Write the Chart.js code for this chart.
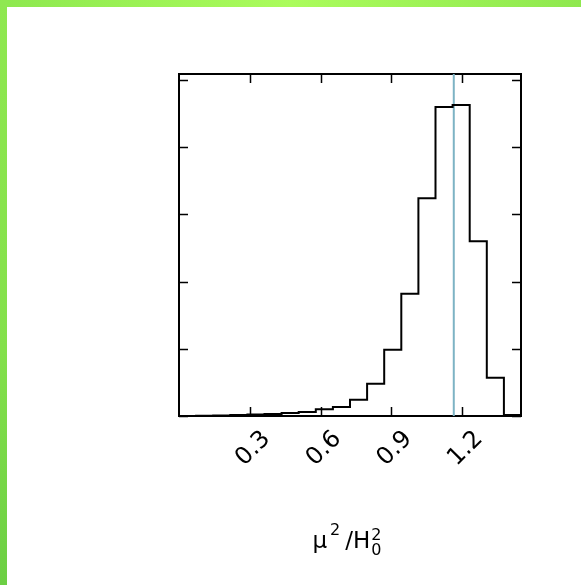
<!DOCTYPE html>
<html>
<head>
<meta charset="utf-8">
<script src="https://cdn.jsdelivr.net/npm/chart.js@4.4.1/dist/chart.umd.min.js"></script>
<style>
  html, body { margin: 0; padding: 0; background: #ffffff; width: 581px; height: 585px; overflow: hidden; }
  #wrap { position: absolute; left: 0; top: 0; width: 581px; height: 585px; }
  #c { position: absolute; left: 0; top: 0; }
  #bandTop { position: absolute; left: 0; top: 0; width: 581px; height: 7px;
    background: linear-gradient(to right, #8de84f 0%, #abfc5c 50%, #8fe84f 100%); }
  #bandLeft { position: absolute; left: 0; top: 0; width: 7px; height: 585px;
    background: linear-gradient(to bottom, #8fe850 0%, #83e04b 60%, #6ccf44 100%); }
</style>
</head>
<body>
<div id="wrap">
  <canvas id="c" width="581" height="585"></canvas>
  <div id="bandTop"></div>
  <div id="bandLeft"></div>
</div>
<script>
// ---- data ----
const binEdges = [0, 0.0725, 0.145, 0.2175, 0.29, 0.3625, 0.435, 0.5075, 0.58, 0.6525, 0.725,
                  0.7975, 0.87, 0.9425, 1.015, 1.0875, 1.16, 1.2325, 1.305, 1.3775, 1.45];
const binHeights = [0.0, 0.005, 0.008, 0.015, 0.022, 0.03, 0.045, 0.06, 0.10, 0.135,
                    0.24, 0.48, 0.985, 1.82, 3.24, 4.60, 4.63, 2.60, 0.57, 0.015];
const referenceValue = 1.165;
const xTickValues = [0.3, 0.6, 0.9, 1.2];
const yTickValues = [0, 1, 2, 3, 4, 5];
const xMin = 0, xMax = 1.45;
const yMin = 0, yMax = 5.09;
const xAxisTitle = {base: 'μ', sup1: '2', mid: '/H', sup2: '2', sub2: '0'};

// step outline of the histogram, built from the arrays
const stepPoints = [{x: binEdges[0], y: 0}];
for (let i = 0; i < binHeights.length; i++) stepPoints.push({x: binEdges[i], y: binHeights[i]});
stepPoints.push({x: binEdges[binEdges.length - 1], y: binHeights[binHeights.length - 1]});
stepPoints.push({x: binEdges[binEdges.length - 1], y: 0});

const refLine = [{x: referenceValue, y: yMin}, {x: referenceValue, y: yMax}];

const FONT = "'DejaVu Sans', 'Liberation Sans', sans-serif";

const inwardTicks = {
  id: 'inwardTicks',
  afterDatasetsDraw(chart) {
    const ctx = chart.ctx, a = chart.chartArea, L = 9;
    ctx.save();
    ctx.strokeStyle = '#000';
    ctx.lineWidth = 1.5;
    ctx.beginPath();
    const sx = chart.scales.x, sy = chart.scales.y;
    xTickValues.forEach(v => {
      const px = Math.round(sx.getPixelForValue(v)) + 0.5;
      ctx.moveTo(px, a.bottom); ctx.lineTo(px, a.bottom - L);
      ctx.moveTo(px, a.top); ctx.lineTo(px, a.top + L);
    });
    yTickValues.forEach(v => {
      const py = Math.round(sy.getPixelForValue(v)) + 0.5;
      ctx.moveTo(a.left, py); ctx.lineTo(a.left + L, py);
      ctx.moveTo(a.right, py); ctx.lineTo(a.right - L, py);
    });
    ctx.stroke();
    ctx.restore();
  }
};

const mathTitle = {
  id: 'mathTitle',
  afterDraw(chart) {
    const ctx = chart.ctx;
    const big = "23px " + FONT, small = "16px " + FONT;
    ctx.save();
    ctx.fillStyle = '#000';
    ctx.textBaseline = 'alphabetic';
    ctx.textAlign = 'left';
    ctx.font = big;
    const wB = ctx.measureText(xAxisTitle.base).width;
    const wM = ctx.measureText(xAxisTitle.mid).width;
    ctx.font = small;
    const wS = ctx.measureText(xAxisTitle.sup1).width;
    const wS2 = Math.max(ctx.measureText(xAxisTitle.sup2).width, ctx.measureText(xAxisTitle.sub2).width);
    const gap1 = 3, gap2 = 5;
    const total = wB + gap1 + wS + gap2 + wM + 1 + wS2;
    const cx = 347, base = 548;
    let x = cx - total / 2;
    ctx.font = big;
    ctx.fillText(xAxisTitle.base, x, base); x += wB + gap1;
    ctx.font = small;
    ctx.fillText(xAxisTitle.sup1, x, base - 13); x += wS + gap2;
    ctx.font = big;
    ctx.fillText(xAxisTitle.mid, x, base); x += wM + 1;
    ctx.font = small;
    ctx.fillText(xAxisTitle.sup2, x, base - 8);
    ctx.fillText(xAxisTitle.sub2, x, base + 7);
    ctx.restore();
  }
};

const setX = s => { s.ticks = xTickValues.map(v => ({value: v})); };
const setY = s => { s.ticks = yTickValues.map(v => ({value: v})); };
const hiddenGrid = {display: true, drawOnChartArea: false, drawTicks: false};
const frame = {display: true, color: '#000', width: 2};

new Chart(document.getElementById('c'), {
  type: 'line',
  data: {
    datasets: [
      {
        data: stepPoints,
        stepped: 'before',
        borderColor: '#000000',
        borderWidth: 2,
        pointRadius: 0,
        fill: false,
        clip: false,
        xAxisID: 'x', yAxisID: 'y'
      },
      {
        data: refLine,
        borderColor: '#7db3c4',
        borderWidth: 2,
        pointRadius: 0,
        fill: false,
        xAxisID: 'x', yAxisID: 'y'
      }
    ]
  },
  options: {
    responsive: false,
    animation: false,
    events: [],
    layout: {padding: 0},
    plugins: {legend: {display: false}, tooltip: {enabled: false}, title: {display: false}},
    scales: {
      x: {
        type: 'linear', position: 'bottom', min: xMin, max: xMax,
        grid: hiddenGrid, border: frame,
        afterBuildTicks: setX,
        afterFit: s => { s.height = 169; },
        ticks: {
          autoSkip: false, minRotation: 45, maxRotation: 45,
          labelOffset: 17, padding: 9,
          color: '#000', font: {family: FONT, size: 24},
          callback: v => String(v)
        }
      },
      x2: {
        type: 'linear', position: 'top', min: xMin, max: xMax,
        grid: hiddenGrid, border: frame,
        afterBuildTicks: setX,
        afterFit: s => { s.height = 74; },
        ticks: {display: false}
      },
      y: {
        type: 'linear', position: 'left', min: yMin, max: yMax,
        grid: hiddenGrid, border: frame,
        afterBuildTicks: setY,
        afterFit: s => { s.width = 179; },
        ticks: {display: false}
      },
      y2: {
        type: 'linear', position: 'right', min: yMin, max: yMax,
        grid: hiddenGrid, border: frame,
        afterBuildTicks: setY,
        afterFit: s => { s.width = 60; },
        ticks: {display: false}
      }
    }
  },
  plugins: [inwardTicks, mathTitle]
});
</script>
</body>
</html>
